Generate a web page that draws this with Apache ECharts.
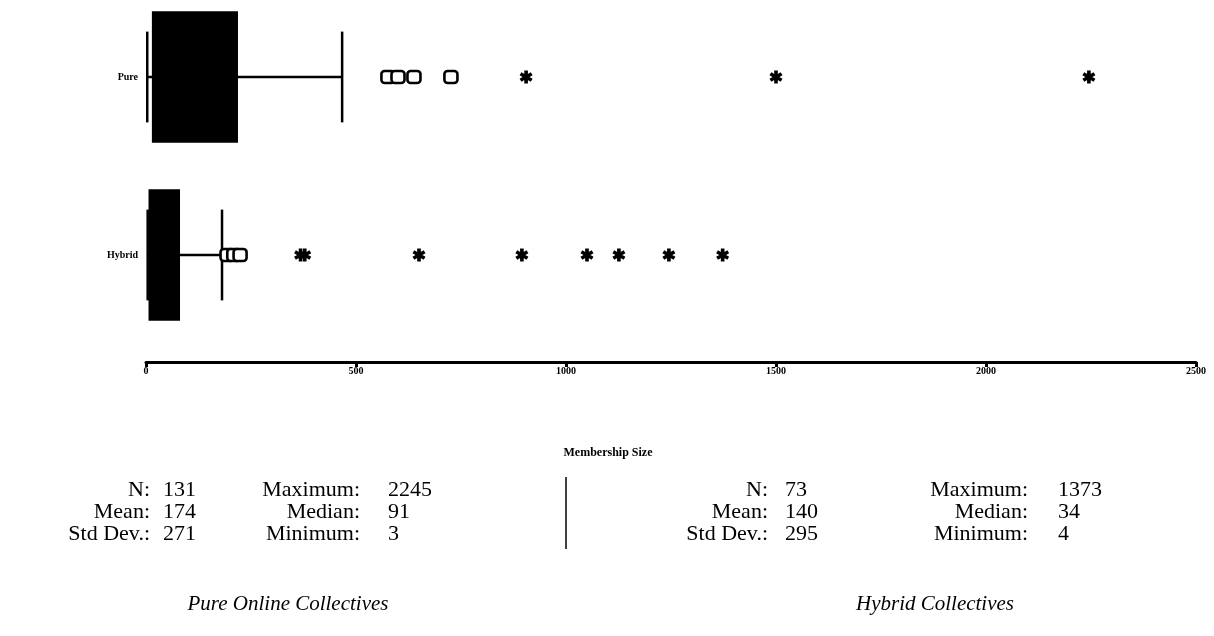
<!DOCTYPE html>
<html>
<head>
<meta charset="utf-8">
<style>
  html, body { margin: 0; padding: 0; background: #fff; }
  #chart { width: 1214px; height: 636px; }
</style>
<script src="https://cdn.jsdelivr.net/npm/echarts@6/dist/echarts.min.js"></script>
</head>
<body>
<div id="chart"></div>
<script>
const categories = ['Hybrid', 'Pure'];
// min, Q1, median, Q3, max (whisker ends)
const pureBox = [3, 14, 91, 219, 467];
const hybridBox = [4, 6, 34, 81, 181];
const pureOutliers = [576, 600, 638, 726];
const pureExtremes = [905, 1500, 2245];
const hybridOutliers = [193, 209, 224];
const hybridExtremes = [368, 378, 650, 895, 1050, 1126, 1245, 1373];
const xTicks = [0, 500, 1000, 1500, 2000, 2500];

const statNamesA = ['N:', 'Mean:', 'Std Dev.:'];
const statNamesB = ['Maximum:', 'Median:', 'Minimum:'];
const pureStatsA = [131, 174, 271];
const pureStatsB = [2245, 91, 3];
const hybridStatsA = [73, 140, 295];
const hybridStatsB = [1373, 34, 4];

const serif = '"Liberation Serif", "DejaVu Serif", serif';
const star = 'path://M36,0L64,0L64,100L36,100Z M0,37L14,13L100,63L86,87Z M86,13L100,37L14,87L0,63Z';

const chart = echarts.init(document.getElementById('chart'));

function boxRender(params, api) {
  const cat = api.value(0);
  const lo = api.coord([api.value(1), cat]);
  const q1 = api.coord([api.value(2), cat]);
  const q3 = api.coord([api.value(4), cat]);
  const hi = api.coord([api.value(5), cat]);
  const band = api.size([0, 1])[1];
  const boxH = band * 0.74;
  const endH = band * 0.51;
  const y = lo[1];
  const line = { stroke: '#000', lineWidth: 2.5 };
  return {
    type: 'group',
    children: [
      { type: 'line', shape: { x1: lo[0], y1: y, x2: hi[0], y2: y }, style: line },
      { type: 'line', shape: { x1: lo[0], y1: y - endH / 2, x2: lo[0], y2: y + endH / 2 }, style: line },
      { type: 'line', shape: { x1: hi[0], y1: y - endH / 2, x2: hi[0], y2: y + endH / 2 }, style: line },
      { type: 'rect', shape: { x: q1[0], y: y - boxH / 2, width: q3[0] - q1[0], height: boxH }, style: { fill: '#000' } }
    ]
  };
}

function pts(values, cat) {
  return values.map((v) => [v, cat]);
}

const statRows = [490, 512, 534];
const statFont = '22px ' + serif;
const graphics = [];
function addBlock(labelRightA, valueLeftA, labelRightB, valueLeftB, valsA, valsB) {
  statRows.forEach((y, i) => {
    graphics.push({ type: 'text', x: labelRightA, y: y, style: { text: statNamesA[i], align: 'right', verticalAlign: 'middle', font: statFont, fill: '#000' } });
    graphics.push({ type: 'text', x: valueLeftA, y: y, style: { text: String(valsA[i]), align: 'left', verticalAlign: 'middle', font: statFont, fill: '#000' } });
    graphics.push({ type: 'text', x: labelRightB, y: y, style: { text: statNamesB[i], align: 'right', verticalAlign: 'middle', font: statFont, fill: '#000' } });
    graphics.push({ type: 'text', x: valueLeftB, y: y, style: { text: String(valsB[i]), align: 'left', verticalAlign: 'middle', font: statFont, fill: '#000' } });
  });
}
addBlock(150, 163, 360, 388, pureStatsA, pureStatsB);
addBlock(768, 785, 1028, 1058, hybridStatsA, hybridStatsB);
graphics.push({ type: 'line', shape: { x1: 566, y1: 477, x2: 566, y2: 549 }, style: { stroke: '#000', lineWidth: 1.5 } });
graphics.push({ type: 'text', x: 608, y: 453, style: { text: 'Membership Size', align: 'center', verticalAlign: 'middle', font: 'bold 12px ' + serif, fill: '#000' } });
graphics.push({ type: 'text', x: 288, y: 604, style: { text: 'Pure Online Collectives', align: 'center', verticalAlign: 'middle', font: 'italic 21px ' + serif, fill: '#000' } });
graphics.push({ type: 'text', x: 935, y: 604, style: { text: 'Hybrid Collectives', align: 'center', verticalAlign: 'middle', font: 'italic 21px ' + serif, fill: '#000' } });

const option = {
  animation: false,
  backgroundColor: '#fff',
  grid: { left: 146, right: 18, top: -12, height: 356, outerBoundsMode: 'none' },
  xAxis: {
    type: 'value',
    min: xTicks[0],
    max: xTicks[xTicks.length - 1],
    interval: 500,
    offset: 18,
    splitLine: { show: false },
    axisLine: { show: true, lineStyle: { color: '#000', width: 3 } },
    axisTick: { show: true, length: 5, lineStyle: { color: '#000', width: 3 } },
    axisLabel: { color: '#000', fontFamily: serif, fontWeight: 'bold', fontSize: 10, margin: 4, formatter: (v) => String(v) }
  },
  yAxis: {
    type: 'category',
    data: categories,
    axisLine: { show: false },
    axisTick: { show: false },
    axisLabel: { color: '#000', fontFamily: serif, fontWeight: 'bold', fontSize: 10, margin: 8 }
  },
  series: [
    {
      type: 'custom',
      renderItem: boxRender,
      encode: { x: [1, 2, 3, 4, 5], y: 0 },
      data: [[1].concat(pureBox), [0].concat(hybridBox)]
    },
    {
      type: 'scatter',
      symbol: 'roundRect',
      symbolSize: [13, 12],
      itemStyle: { color: '#fff', borderColor: '#000', borderWidth: 2.5, opacity: 1 },
      data: pts(pureOutliers, 1).concat(pts(hybridOutliers, 0))
    },
    {
      type: 'scatter',
      symbol: star,
      symbolSize: 13,
      itemStyle: { color: '#000', opacity: 1 },
      data: pts(pureExtremes, 1).concat(pts(hybridExtremes, 0))
    }
  ],
  graphic: graphics
};

chart.setOption(option);
window.addEventListener('resize', () => chart.resize());
</script>
</body>
</html>
